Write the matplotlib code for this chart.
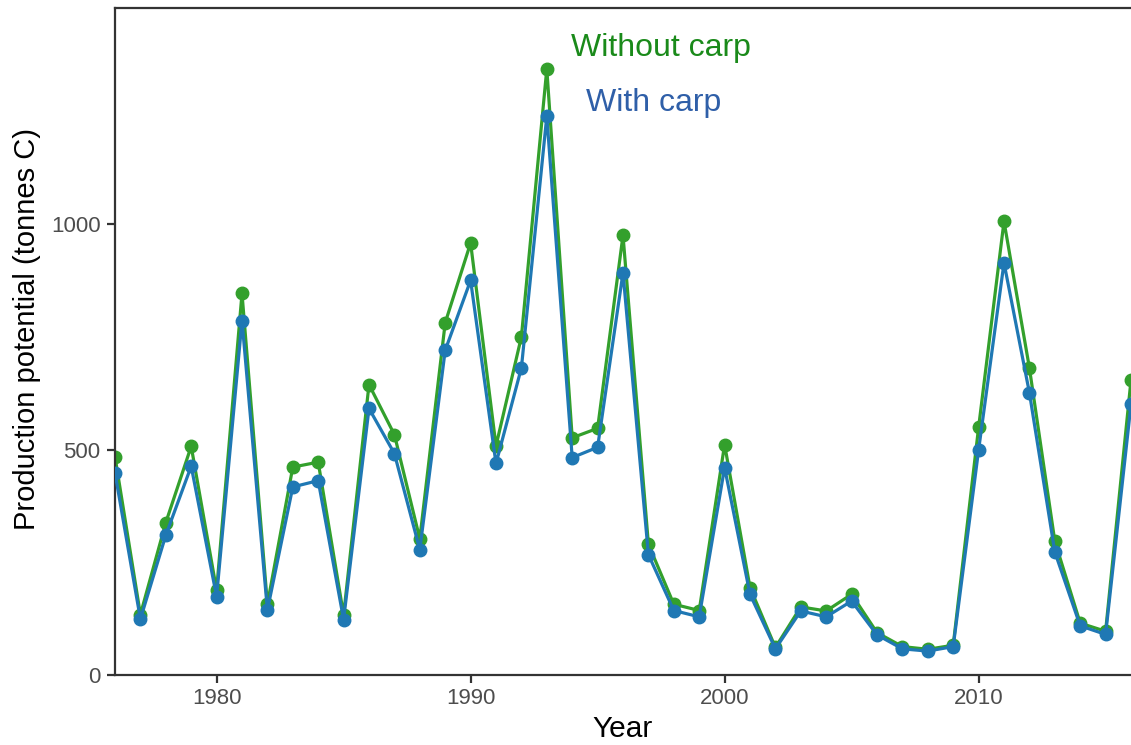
import matplotlib.pyplot as plt

plt.rcParams['font.family'] = ['Liberation Sans', 'DejaVu Sans']

years = list(range(1976, 2017))

# production potential, tonnes C
without_carp = [484, 134, 338, 507, 188, 846, 157, 461, 472, 133,
                644, 533, 302, 781, 958, 508, 750, 1344, 526, 547,
                975, 290, 157, 143, 511, 194, 61, 151, 142, 179,
                94, 63, 57, 66, 549, 1006, 681, 297, 115, 97,
                654]
with_carp = [448, 124, 310, 463, 174, 786, 144, 417, 431, 123,
             591, 491, 278, 720, 875, 469, 681, 1239, 482, 505,
             892, 267, 143, 129, 460, 179, 58, 142, 129, 164,
             89, 58, 53, 63, 499, 914, 626, 273, 109, 90,
             600]

x_ticks = [1980, 1990, 2000, 2010]
y_ticks = [0, 500, 1000]

green = '#33a02c'
blue = '#1f78b4'

fig = plt.figure(figsize=(11.31, 7.45), dpi=100)
ax = fig.add_axes([115 / 1131, 70 / 745, 1 - 115 / 1131, 667 / 745])

ax.plot(years, without_carp, color=green, lw=2.3, marker='o', ms=9,
        zorder=2)
ax.plot(years, with_carp, color=blue, lw=2.3, marker='o', ms=9,
        zorder=3)

ax.text(1997.5, 1390, 'Without carp', color='#1a8a1a', fontsize=23,
        ha='center', va='center')
ax.text(1997.2, 1268, 'With carp', color='#2f5fa8', fontsize=23,
        ha='center', va='center')

ax.set_xlim(1976, 2016)
ax.set_ylim(0, 1479)
ax.set_xticks(x_ticks)
ax.set_yticks(y_ticks)

for side in ['left', 'bottom', 'top']:
    ax.spines[side].set_color('#333333')
    ax.spines[side].set_linewidth(1.6)
ax.spines['right'].set_visible(False)

ax.tick_params(axis='both', direction='out', length=5.5, width=1.6,
               color='#333333', labelcolor='#4d4d4d', labelsize=16)
ax.tick_params(axis='x', pad=4)
ax.tick_params(axis='y', pad=5)

ax.set_xlabel('Year', fontsize=21.5, color='black', labelpad=4)
ax.set_ylabel('Production potential (tonnes C)', fontsize=21,
              color='black')
ax.yaxis.set_label_coords(-0.073, 0.519)

fig.savefig('out.png', dpi=100)
